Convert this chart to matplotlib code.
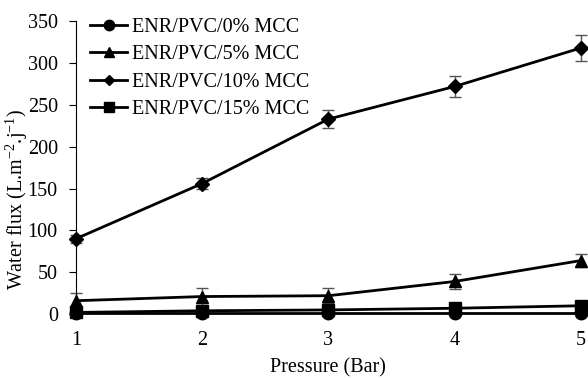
import numpy as np
import matplotlib.pyplot as plt
from matplotlib.lines import Line2D

plt.rcParams['font.family'] = ['Liberation Serif', 'DejaVu Serif']
plt.rcParams['mathtext.fontset'] = 'custom'
plt.rcParams['mathtext.rm'] = 'Liberation Serif'
plt.rcParams['mathtext.it'] = 'Liberation Serif:italic'

pressure = [1, 2, 3, 4, 5]
flux_0 = [1, 1, 1, 1, 1]
flux_5 = [16, 21, 22, 39, 64]
flux_10 = [90, 156, 233, 272, 318]
flux_15 = [2, 4, 5, 7, 10]
err_0 = [0, 0, 0, 0, 0]
err_5 = [9, 10, 9, 9, 8]
err_10 = [5, 7, 11, 13, 15]
err_15 = [0, 0, 0, 0, 0]
labels = ["ENR/PVC/0% MCC", "ENR/PVC/5% MCC", "ENR/PVC/10% MCC", "ENR/PVC/15% MCC"]

fs = 14.5
fig = plt.figure(figsize=(5.88, 3.78), dpi=100)
ax = fig.add_axes([0.129, 0.169, 0.859, 0.775])

series = [(flux_0, err_0, 'o'), (flux_5, err_5, '^'), (flux_10, err_10, 'D'), (flux_15, err_15, 's')]
handles = []
for (y, e, m), lab in zip(series, labels):
    ms = 7 if m == 'D' else 9
    ax.errorbar(pressure, y, yerr=e, color='black', marker=m, markersize=ms, lw=2,
                ecolor='#555555', elinewidth=1, capsize=4, clip_on=False)
    handles.append(Line2D([], [], color='black', marker=m, markersize=ms - 1.5, lw=2))

ax.set_xlim(1, 5)
ax.set_ylim(0, 350)
ax.set_yticks(range(0, 351, 50))
ax.set_xticks(pressure)
ax.tick_params(axis='y', direction='out', length=5, labelsize=fs, pad=8)
ax.tick_params(axis='x', length=0, labelsize=fs, pad=12)
for s in ['top', 'right', 'bottom']:
    ax.spines[s].set_visible(False)
ax.set_xlabel("Pressure (Bar)", fontsize=fs, labelpad=6)
ax.set_ylabel("Water flux (L.m$^{-2}$.j$^{-1}$)", fontsize=fs)
ax.yaxis.set_label_coords(-0.09, 0.39)

ax.legend(handles, labels, loc='upper left', bbox_to_anchor=(0.0, 1.06), frameon=False,
          fontsize=fs, handlelength=1.85, handletextpad=0.25, labelspacing=0.42, borderpad=0.2,
          borderaxespad=0.5)

fig.savefig("out.png", dpi=100)
